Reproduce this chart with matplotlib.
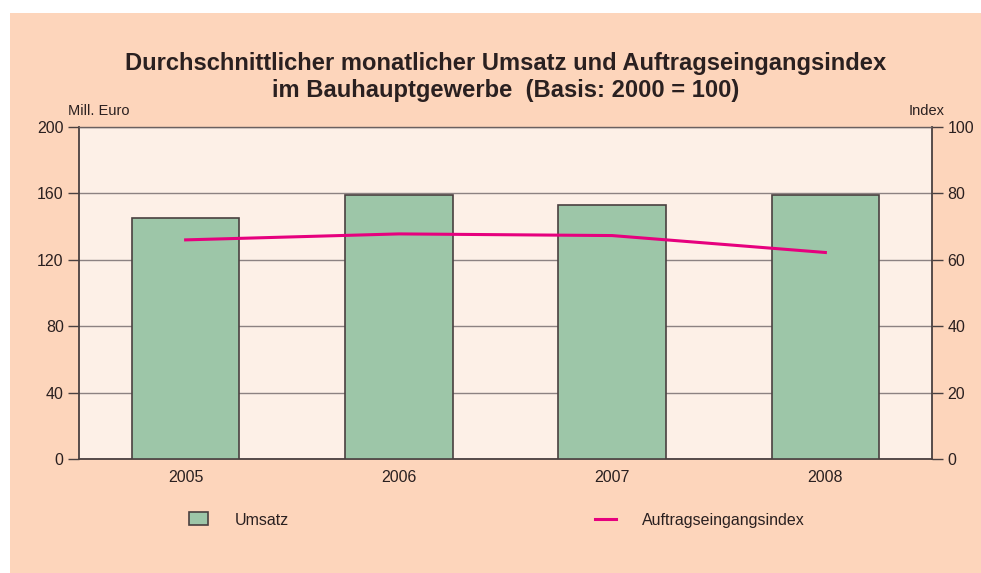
import matplotlib.pyplot as plt
import matplotlib.patches as mpatches
from matplotlib.lines import Line2D
import numpy as np

plt.rcParams['font.family'] = ['Liberation Sans', 'DejaVu Sans']

years = ['2005', '2006', '2007', '2008']
umsatz = [145, 159, 153, 159]            # Mill. Euro
auftrag_index = [66.0, 67.8, 67.3, 62.2]  # Index (2000 = 100)

peach = '#FDD5BB'
inner = '#FDF0E7'
bar_col = '#9DC6A8'
edge = '#4A4040'
magenta = '#E6007E'
txt = '#2A2020'

W, H = 981, 573
fig = plt.figure(figsize=(9.81, 5.73), dpi=100, facecolor='white')
# peach panel behind everything
fig.patches.append(mpatches.Rectangle((10 / W, 0), 1 - 10 / W, 1 - 13 / H,
                                      transform=fig.transFigure, facecolor=peach,
                                      edgecolor='none', zorder=-10))

ax = fig.add_axes([79 / W, 1 - 459 / H, (932 - 79) / W, (459 - 127) / H])
ax.set_facecolor(inner)

x = np.arange(len(years))
ax.bar(x, umsatz, width=0.505, color=bar_col, edgecolor=edge, linewidth=1.2, zorder=3)
ax.set_xlim(-0.5, 3.5)
ax.set_ylim(0, 200)
ax.set_yticks([0, 40, 80, 120, 160, 200])
ax.set_xticks(x)
ax.set_xticklabels(years)
ax.yaxis.grid(True, color='#8C8282', linewidth=1.0, zorder=1)
ax.set_axisbelow(True)
ax.tick_params(axis='y', direction='out', length=8, width=1, color=edge,
               labelsize=11.5, labelcolor=txt, pad=3)
ax.tick_params(axis='x', length=0, labelsize=11.5, labelcolor=txt, pad=8)
for s in ['left', 'right', 'bottom']:
    ax.spines[s].set_color(edge)
    ax.spines[s].set_linewidth(1.3)
ax.spines['top'].set_color('#6A6060')
ax.spines['top'].set_linewidth(1.0)

ax2 = ax.twinx()
ax2.plot(x, auftrag_index, color=magenta, linewidth=2.2, zorder=5)
ax2.set_ylim(0, 100)
ax2.set_yticks([0, 20, 40, 60, 80, 100])
ax2.tick_params(axis='y', direction='out', length=8, width=1, color=edge,
                labelsize=11.5, labelcolor=txt, pad=3)
for s in ax2.spines.values():
    s.set_visible(False)

fig.text(506 / W, 1 - 70 / H, 'Durchschnittlicher monatlicher Umsatz und Auftragseingangsindex',
         ha='center', va='baseline', fontsize=17.1, fontweight='bold', color=txt)
fig.text(506 / W, 1 - 97 / H, 'im Bauhauptgewerbe  (Basis: 2000 = 100)',
         ha='center', va='baseline', fontsize=17.1, fontweight='bold', color=txt)
fig.text(68 / W, 1 - 115 / H, 'Mill. Euro', fontsize=10.5, color=txt, va='baseline')
fig.text(945 / W, 1 - 115 / H, 'Index', fontsize=10.5, color=txt, va='baseline', ha='right')

handles = [mpatches.Patch(facecolor=bar_col, edgecolor=edge, linewidth=1.2),
           Line2D([0], [0], color=magenta, linewidth=2.2)]
fig.legend(handles[:1], ['Umsatz'], loc='center left', bbox_to_anchor=(189 / W, 1 - 520 / H),
           frameon=False, fontsize=11.5, handlelength=1.19, handleheight=0.875,
           handletextpad=1.69, borderpad=0, borderaxespad=0, labelcolor=txt)
fig.legend(handles[1:], ['Auftragseingangsindex'], loc='center left',
           bbox_to_anchor=(595 / W, 1 - 520 / H), frameon=False, fontsize=11.5,
           handlelength=1.31, handletextpad=1.62, borderpad=0, borderaxespad=0,
           labelcolor=txt)

fig.savefig('out.png', dpi=100, facecolor='white')
